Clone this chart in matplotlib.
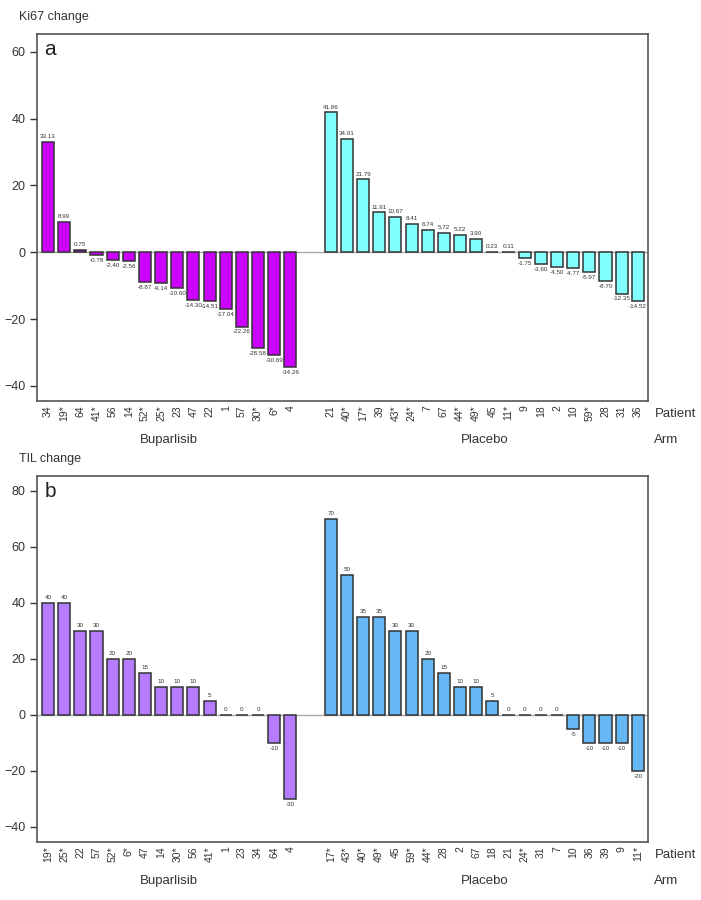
import numpy as np
import matplotlib
matplotlib.use("Agg")
import matplotlib.pyplot as plt

plt.rcParams['font.family'] = ['Liberation Sans', 'DejaVu Sans']

# panel a : Ki67 change
ki67_bup_patients = ["34", "19*", "64", "41*", "56", "14", "52*", "25*", "23", "47",
                     "22", "1", "57", "30*", "6*", "4"]
ki67_bup_values = [33.13, 8.99, 0.75, -0.78, -2.40, -2.56, -8.87, -9.14, -10.60, -14.30,
                   -14.51, -17.04, -22.26, -28.58, -30.69, -34.26]
ki67_pla_patients = ["21", "40*", "17*", "39", "43*", "24*", "7", "67", "44*", "49*",
                     "45", "11*", "9", "18", "2", "10", "59*", "28", "31", "36"]
ki67_pla_values = [41.86, 34.01, 21.79, 11.91, 10.67, 8.41, 6.74, 5.72, 5.22, 3.90,
                   0.23, 0.11, -1.75, -3.60, -4.50, -4.77, -5.97, -8.70, -12.35, -14.52]

# panel b : TIL change
til_bup_patients = ["19*", "25*", "22", "57", "52*", "6*", "47", "14", "30*", "56",
                    "41*", "1", "23", "34", "64", "4"]
til_bup_values = [40, 40, 30, 30, 20, 20, 15, 10, 10, 10, 5, 0, 0, 0, -10, -30]
til_pla_patients = ["17*", "43*", "40*", "49*", "45", "59*", "44*", "28", "2", "67",
                    "18", "21", "24*", "31", "7", "10", "36", "39", "9", "11*"]
til_pla_values = [70, 50, 35, 35, 30, 30, 20, 15, 10, 10, 5, 0, 0, 0, 0, -5, -10, -10, -10, -20]

arms = ["Buparlisib", "Placebo"]

GAP = 2.5  # spacing between the two arms (in bar units)
TXT = "#333333"


def draw_panel(ax, bup_p, bup_v, pla_p, pla_v, fmt, c_bup, c_pla, letter, ylabel,
               ylim, yticks):
    xb = np.arange(len(bup_v))
    xp = len(bup_v) - 1 + GAP + np.arange(len(pla_v))
    ax.axhline(0, color="#aaaaaa", lw=1.0, zorder=1)
    for xs, vals, col in [(xb, bup_v, c_bup), (xp, pla_v, c_pla)]:
        ax.bar(xs, vals, width=0.75, color=col, edgecolor="#333333", linewidth=1.1, zorder=2)
        for x, v in zip(xs, vals):
            if v >= 0:
                ax.annotate(fmt.format(v), (x, v), xytext=(0, 2), textcoords="offset points",
                            ha="center", va="bottom", fontsize=4.5, color=TXT)
            else:
                ax.annotate(fmt.format(v), (x, v), xytext=(0, -2), textcoords="offset points",
                            ha="center", va="top", fontsize=4.5, color=TXT)

    ax.set_xlim(-0.68, xp[-1] + 0.65)
    ax.set_ylim(*ylim)
    ax.set_yticks(yticks)
    ax.tick_params(axis="y", labelsize=9, colors=TXT, length=5, width=1)
    ax.set_xticks(np.concatenate([xb, xp]))
    ax.set_xticklabels(bup_p + pla_p, rotation=90, fontsize=7.5, color=TXT)
    ax.tick_params(axis="x", length=0, pad=3)
    for s in ax.spines.values():
        s.set_color("#555555")
        s.set_linewidth(1.2)

    ax.text(0.012, 0.985, letter, transform=ax.transAxes, fontsize=15, va="top", color="#222222")
    ax.text(-0.03, 1.03, ylabel, transform=ax.transAxes, fontsize=9, ha="left", va="bottom",
            color=TXT)

    # patient / arm labels
    ax.text(1.01, -0.02, "Patient", transform=ax.transAxes, fontsize=9.5, ha="left", va="top",
            color=TXT)
    ax.text(1.01, -0.09, "Arm", transform=ax.transAxes, fontsize=9.5, ha="left", va="top",
            color=TXT)
    trans = ax.get_xaxis_transform()
    ax.text(xb.mean(), -0.09, arms[0], transform=trans, fontsize=9.5, ha="center", va="top",
            color=TXT)
    ax.text(xp.mean(), -0.09, arms[1], transform=trans, fontsize=9.5, ha="center", va="top",
            color=TXT)


fig = plt.figure(figsize=(7.01, 9.0), dpi=100)
ax1 = fig.add_axes([0.0528, 0.5544, 0.872, 0.4078])
ax2 = fig.add_axes([0.0528, 0.0644, 0.872, 0.4067])

draw_panel(ax1, ki67_bup_patients, ki67_bup_values, ki67_pla_patients, ki67_pla_values,
           "{:.2f}", "#cc00ff", "#80ffff", "a", "Ki67 change", (-44.5, 65.3), [-40, -20, 0, 20, 40, 60])
draw_panel(ax2, til_bup_patients, til_bup_values, til_pla_patients, til_pla_values,
           "{:.0f}", "#b57cff", "#66b8f5", "b", "TIL change", (-45.4, 85.3), [-40, -20, 0, 20, 40, 60, 80])

fig.savefig("out.png", dpi=100)
